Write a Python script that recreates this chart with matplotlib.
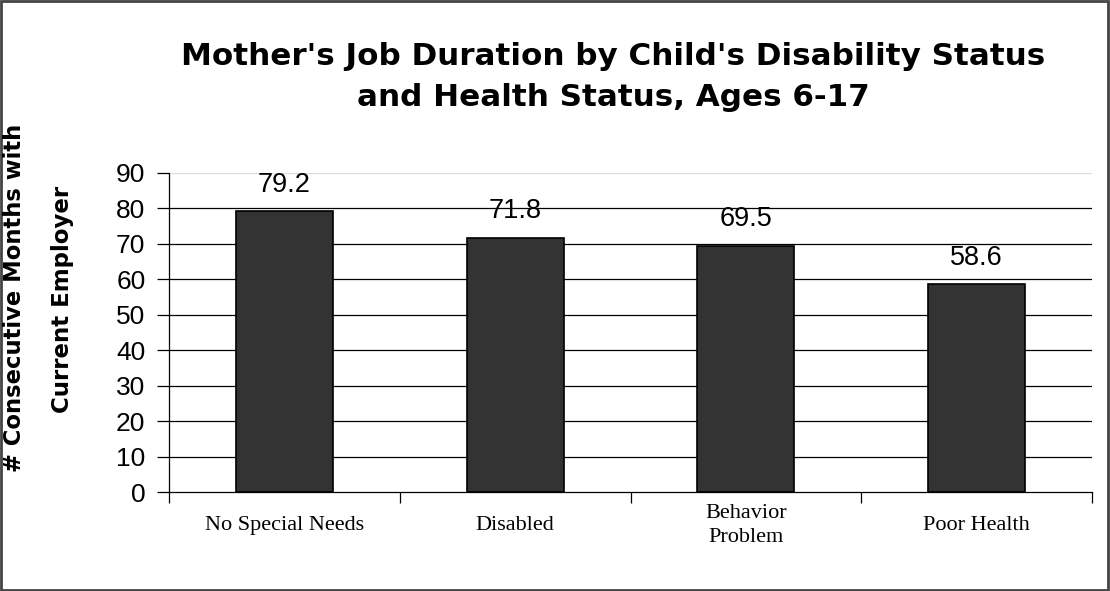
import matplotlib
matplotlib.use("Agg")
import matplotlib.pyplot as plt
import numpy as np
from matplotlib.patches import Rectangle

categories = ["No Special Needs", "Disabled", "Behavior\nProblem", "Poor Health"]
values = [79.2, 71.8, 69.5, 58.6]
yticks = [0, 10, 20, 30, 40, 50, 60, 70, 80, 90]

fig = plt.figure(figsize=(11.1, 5.91), dpi=100)
ax = fig.add_axes([169/1110, 1-492/591, (1092-169)/1110, (492-173)/591])

x = np.arange(len(categories))
bars = ax.bar(x, values, width=0.42, color="#333333", edgecolor="black", linewidth=1.2, zorder=3)

ax.set_xlim(-0.5, len(categories) - 0.5)
ax.set_ylim(0, 90)
ax.set_yticks(yticks)
ax.set_yticklabels([str(t) for t in yticks], fontsize=19, family="Liberation Sans")
for t in yticks[1:]:
    ax.axhline(t, color="black" if t < 90 else "#dddddd", linewidth=0.9, zorder=1)

ax.set_xticks(np.arange(len(categories) + 1) - 0.5, minor=True)
ax.tick_params(axis="x", which="minor", length=8, width=0.9, direction="out")
ax.set_xticks(x)
ax.set_xticklabels(categories, fontsize=16, family="Liberation Serif",
                   va="center", linespacing=1.4)
ax.tick_params(axis="x", which="major", length=0, pad=24)
ax.tick_params(axis="y", length=9, width=0.9, direction="out", pad=8)

for s in ["top", "right"]:
    ax.spines[s].set_visible(False)
ax.spines["left"].set_linewidth(0.9)
ax.spines["bottom"].set_linewidth(0.9)

for xi, v in zip(x, values):
    ax.annotate(f"{v}", (xi, v), xytext=(0, 14), textcoords="offset points",
                ha="center", va="baseline", fontsize=19.5, family="Liberation Sans")

fig.text(613/1110, 1-77/591, "Mother's Job Duration by Child's Disability Status\nand Health Status, Ages 6-17",
         ha="center", va="center", fontsize=22.3, fontweight="bold", family="DejaVu Sans",
         linespacing=1.55)

fig.text(15/1110, 1-298/591, "# Consecutive Months with", rotation=90, ha="center", va="center",
         fontsize=16.3, fontweight="bold", family="DejaVu Sans")
fig.text(62/1110, 1-299/591, "Current Employer", rotation=90, ha="center", va="center",
         fontsize=16.5, fontweight="bold", family="DejaVu Sans")

fig.patches.append(Rectangle((0.001, 0.002), 0.997, 0.996, transform=fig.transFigure,
                             fill=False, edgecolor="#444444", linewidth=2))

fig.savefig("out.png", dpi=100)
